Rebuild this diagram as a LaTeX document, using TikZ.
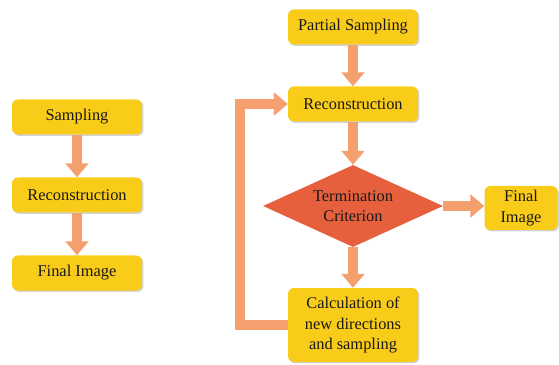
\documentclass[tikz,border=0pt]{standalone}
\usepackage{fontspec}
\setmainfont{Liberation Serif}
\usetikzlibrary{shapes.geometric,arrows.meta,shadows}
\definecolor{boxyellow}{HTML}{FACC1A}
\definecolor{critred}{HTML}{E6603D}
\definecolor{flowsalmon}{HTML}{F4A06E}
\begin{document}
\begin{tikzpicture}[
      % --- GLOBAL STYLES ---
      every node/.style={font=\fontsize{14}{17.5}\selectfont, text=black!90},
      stepbox/.style={rectangle, fill=boxyellow, rounded corners=5pt, align=center,
        drop shadow={opacity=0.35, shadow xshift=1.2pt, shadow yshift=-1.2pt}},
      wide/.style={minimum width=3.9cm, minimum height=1.05cm, inner sep=2pt},
      crit/.style={diamond, fill=critred, aspect=2.2, minimum width=5.4cm, minimum height=2.46cm, inner sep=0pt, align=center},
      flow/.style={draw=flowsalmon, line width=0.3cm, -{Triangle[width=0.68cm, length=0.42cm]}}
  ]
    \useasboundingbox (0,0) rectangle (16.77,-10.95);
    %
    % 1. Conventional pipeline
    \node[stepbox, wide] (samp) at (2.31,-3.51) {Sampling};
    \node[stepbox, wide] (recA) at (2.31,-5.85) {Reconstruction};
    \node[stepbox, wide] (finA) at (2.31,-8.19) {Final Image};
    %
    % 2. Adaptive pipeline
    \node[stepbox, wide] (psamp) at (10.59,-0.81) {Partial Sampling};
    \node[stepbox, wide] (recB) at (10.59,-3.12) {Reconstruction};
    \node[crit] (term) at (10.59,-6.18) {Termination\\Criterion};
    \node[stepbox, minimum width=2.19cm, minimum height=1.32cm, inner sep=2pt] (finB) at (15.63,-6.24) {Final\\Image};
    \node[stepbox, minimum width=3.9cm, minimum height=2.22cm, inner sep=2pt] (calc) at (10.59,-9.75) {Calculation of\\new directions\\and sampling};
    \coordinate (loop) at (7.2,-9.75);
    %
    % 3. Links left
    \draw[flow] (samp) -- (recA);
    \draw[flow] (recA) -- (finA);
    %
    % 4. Links right
    \draw[flow] (psamp) -- (recB);
    \draw[flow] (recB) -- (term);
    \draw[flow] (term.east) -- (finB.west |- term.east);
    \draw[flow] (term) -- (calc);
    \draw[flow] (calc.west) -- (loop) |- (recB.west);
  \end{tikzpicture}
\end{document}
